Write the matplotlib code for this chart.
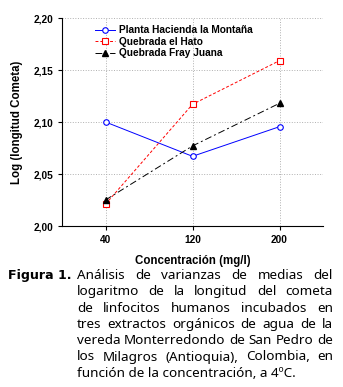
import matplotlib
matplotlib.use("Agg")
import matplotlib.pyplot as plt

conc = ["40", "120", "200"]
planta = [2.100, 2.067, 2.0955]
hato = [2.021, 2.117, 2.159]
fray = [2.025, 2.077, 2.118]
y_ticks = [2.00, 2.05, 2.10, 2.15, 2.20]
caption_lines = [
    "Análisis de varianzas de medias del",
    "logaritmo de la longitud del cometa",
    "de linfocitos humanos incubados en",
    "tres extractos orgánicos de agua de la",
    "vereda Monterredondo de San Pedro de",
    "los Milagros (Antioquia), Colombia, en",
    "función de la concentración, a 4ºC.",
]

W, H = 343, 387
fig = plt.figure(figsize=(W / 100, H / 100), dpi=100)
ax = fig.add_axes([62 / W, 1 - 226 / H, (323 - 62) / W, (226 - 18) / H])

x = range(len(conc))
ax.plot(x, planta, color="blue", lw=0.7, marker="o", ms=4, mfc="white", mec="blue",
        mew=0.8, label="Planta Hacienda la Montaña")
ax.plot(x, hato, color="red", lw=0.7, ls=(0, (3, 2)), marker="s", ms=4.5, mfc="white",
        mec="red", mew=0.8, label="Quebrada el Hato")
ax.plot(x, fray, color="black", lw=0.7, ls=(0, (7, 3, 2, 3)), marker="^", ms=4,
        mfc="black", mec="black", label="Quebrada Fray Juana")

ax.set_xlim(-0.5, 2.5)
ax.set_ylim(2.0, 2.2)
ax.set_xticks(list(x))
ax.set_xticklabels(conc)
ax.set_yticks(y_ticks)
ax.set_yticklabels([f"{v:.2f}".replace(".", ",") for v in y_ticks])
ax.grid(True, color="#b0b0b0", ls=":", lw=0.7)
ax.set_axisbelow(True)
for s in ["top", "right"]:
    ax.spines[s].set_visible(False)
for s in ["left", "bottom"]:
    ax.spines[s].set_linewidth(0.8)
ax.tick_params(length=3, width=0.8, labelsize=7.3)
for lab in ax.get_xticklabels() + ax.get_yticklabels():
    lab.set_fontweight("bold")
    lab.set_family("Liberation Sans")
ax.set_xlabel("Concentración (mg/l)", fontsize=8.3, fontweight="bold",
              family="Liberation Sans", labelpad=7)
ax.set_ylabel("Log (longitud Cometa)", fontsize=8.3, fontweight="bold",
              family="Liberation Sans", labelpad=7)
leg = ax.legend(loc="upper left", bbox_to_anchor=(0.1, 1.0), frameon=False,
                prop={"family": "Liberation Sans", "weight": "bold", "size": 7.3},
                handlelength=2.0, handletextpad=0.3, labelspacing=0.15, borderpad=0.2)

# caption, justified; font size chosen so the last line is ~218 px wide
fam = "Noto Sans"
left, right = 77, 333
renderer = fig.canvas.get_renderer()
probe = fig.text(0, 0, caption_lines[-1], fontsize=10, family=fam)
fs = 10 * 218 / probe.get_window_extent(renderer).width
probe.remove()
probe = fig.text(0, 0, "Figura 1.", fontsize=10, family="DejaVu Sans", fontweight="bold")
fs_b = 10 * 64 / probe.get_window_extent(renderer).width
probe.remove()

fig.text(8 / W, 1 - 279 / H, "Figura 1.", fontsize=fs_b, fontweight="bold",
         family="DejaVu Sans", va="baseline", ha="left")
for i, line in enumerate(caption_lines):
    yy = 1 - (279 + 16.3 * i) / H
    words = line.split(" ")
    if i == len(caption_lines) - 1:
        fig.text(left / W, yy, line, fontsize=fs, family=fam, va="baseline")
        continue
    texts = [fig.text(0, yy, w, fontsize=fs, family=fam, va="baseline") for w in words]
    widths = [t.get_window_extent(renderer).width for t in texts]
    gap = (right - left - sum(widths)) / (len(words) - 1)
    xp = left
    for t, wd in zip(texts, widths):
        t.set_x(xp / W)
        xp += wd + gap

fig.savefig("out.png", dpi=100)
